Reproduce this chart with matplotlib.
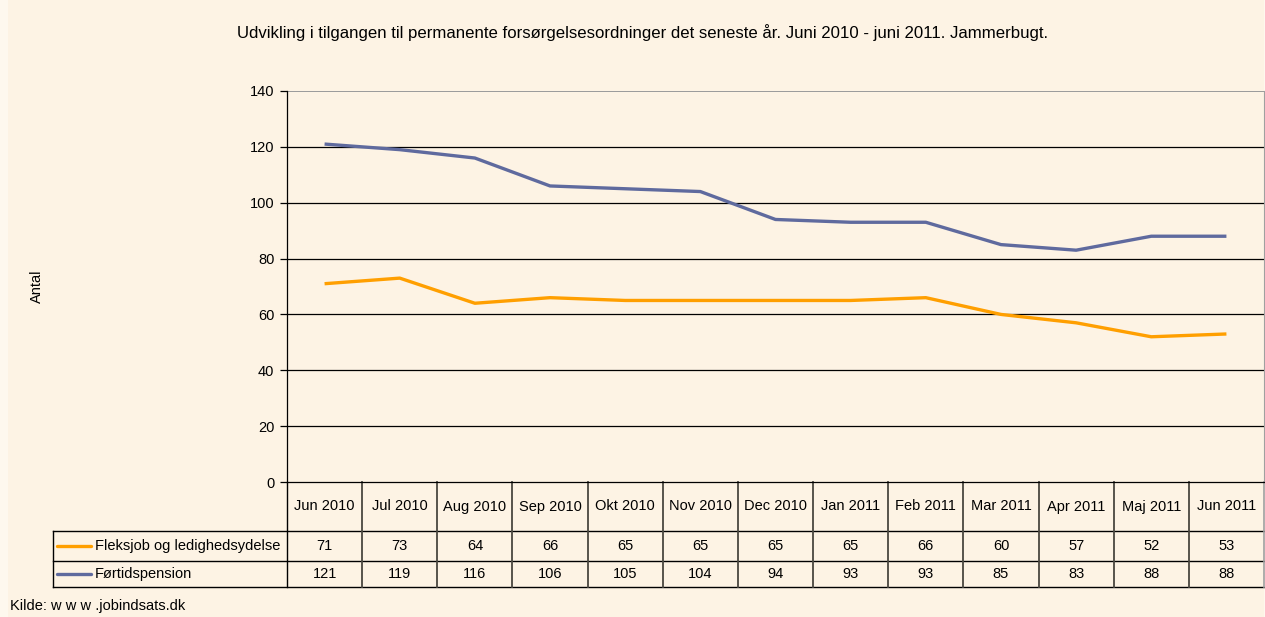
import matplotlib
matplotlib.use("Agg")
import matplotlib.pyplot as plt
import matplotlib.transforms as mtransforms
from matplotlib.patches import Rectangle

plt.rcParams["font.family"] = ["Liberation Sans", "DejaVu Sans"]

MONTHS = ["Jun 2010", "Jul 2010", "Aug 2010", "Sep 2010", "Okt 2010", "Nov 2010", "Dec 2010",
          "Jan 2011", "Feb 2011", "Mar 2011", "Apr 2011", "Maj 2011", "Jun 2011"]
FLEKS = [71, 73, 64, 66, 65, 65, 65, 65, 66, 60, 57, 52, 53]
FORTID = [121, 119, 116, 106, 105, 104, 94, 93, 93, 85, 83, 88, 88]
SERIES = ["Fleksjob og ledighedsydelse", "Førtidspension"]
COLORS = ["#FF9F00", "#5F6A9E"]
YTICKS = [0, 20, 40, 60, 80, 100, 120, 140]

BG = "#FDF3E4"
W, H = 1265, 617

fig = plt.figure(figsize=(W / 100, H / 100), dpi=100, facecolor="#FEF8EE")
fig.patches.append(Rectangle((8 / W, 0), (1264 - 8) / W, 1, transform=fig.transFigure,
                             facecolor=BG, edgecolor="none", zorder=-1))

# axes: x 287..1264 px, y 91..482 px
ax = fig.add_axes([287 / W, 1 - 482 / H, (1264 - 287) / W, (482 - 91) / H])
ax.set_facecolor(BG)
n = len(MONTHS)
x = list(range(n))
ax.set_xlim(-0.5, n - 0.5)
ax.set_ylim(0, 140)

for y in YTICKS[1:-1]:
    ax.axhline(y, color="black", lw=0.9, zorder=1)
ax.axhline(140, color="#9a9a9a", lw=1.4, zorder=1)

ax.plot(x, FLEKS, color=COLORS[0], lw=2.4, zorder=3, solid_capstyle="butt")
ax.plot(x, FORTID, color=COLORS[1], lw=2.4, zorder=3, solid_capstyle="butt")

ax.set_yticks(YTICKS)
ax.set_yticklabels([str(v) for v in YTICKS], fontsize=10.5)
ax.tick_params(axis="y", direction="out", length=5, width=0.9, pad=4)
ax.set_xticks([])
ax.spines["top"].set_visible(False)
ax.spines["right"].set_color("#a0a0a0")
ax.spines["left"].set_color("black")
ax.spines["bottom"].set_color("black")
ax.spines["left"].set_linewidth(0.9)
ax.spines["bottom"].set_linewidth(0.9)

ax.set_ylabel("Antal", fontsize=10.5, labelpad=0)
ax.yaxis.set_label_coords(-243 / 977, 0.5)

fig.text(643 / W, 1 - 33 / H,
         "Udvikling i tilgangen til permanente forsørgelsesordninger det seneste år. Juni 2010 - juni 2011. Jammerbugt.",
         ha="center", va="center", fontsize=12.1)

# data table below the axes
tr = mtransforms.blended_transform_factory(ax.transData, ax.transAxes)
ah = 482 - 91
y_hdr = -(531 - 482) / ah
y_r1 = -(561 - 482) / ah
y_r2 = -(587 - 482) / ah
u = 977 / n
x_leg = -0.5 - (287 - 53) / u
lk = dict(transform=tr, clip_on=False, color="black", lw=1.0)

ax.plot([x_leg, n - 0.5], [y_hdr, y_hdr], **lk)
ax.plot([x_leg, n - 0.5], [y_r1, y_r1], **lk)
ax.plot([x_leg, n - 0.5], [y_r2, y_r2], **lk)
ax.plot([x_leg, x_leg], [y_hdr, y_r2], **lk)
for i in range(n):
    ax.plot([i + 0.5, i + 0.5], [0, y_r2], transform=tr, clip_on=False,
            color="#4a4740" if i < n - 1 else "#a0a0a0", lw=1.3 if i < n - 1 else 1.2)
ax.plot([-0.5, -0.5], [0, y_r2], **lk)

for i, m in enumerate(MONTHS):
    ax.text(i, y_hdr / 2, m, transform=tr, ha="center", va="center", fontsize=10.5)
    ax.text(i, (y_hdr + y_r1) / 2, str(FLEKS[i]), transform=tr, ha="center", va="center", fontsize=10.5)
    ax.text(i, (y_r1 + y_r2) / 2, str(FORTID[i]), transform=tr, ha="center", va="center", fontsize=10.5)

for j, (name, c) in enumerate(zip(SERIES, COLORS)):
    yc = (y_hdr + y_r1) / 2 if j == 0 else (y_r1 + y_r2) / 2
    x0 = -0.5 - (287 - 57) / u
    x1 = -0.5 - (287 - 91) / u
    ax.plot([x0, x1], [yc, yc], transform=tr, clip_on=False, color=c, lw=2.4,
            solid_capstyle="round")
    ax.text(-0.5 - (287 - 95) / u, yc, name, transform=tr, ha="left", va="center", fontsize=10.5)

fig.text(10 / W, 1 - 606 / H, "Kilde: w w w .jobindsats.dk", ha="left", va="center", fontsize=10.5)

fig.savefig("out.png", dpi=100, facecolor=fig.get_facecolor())
